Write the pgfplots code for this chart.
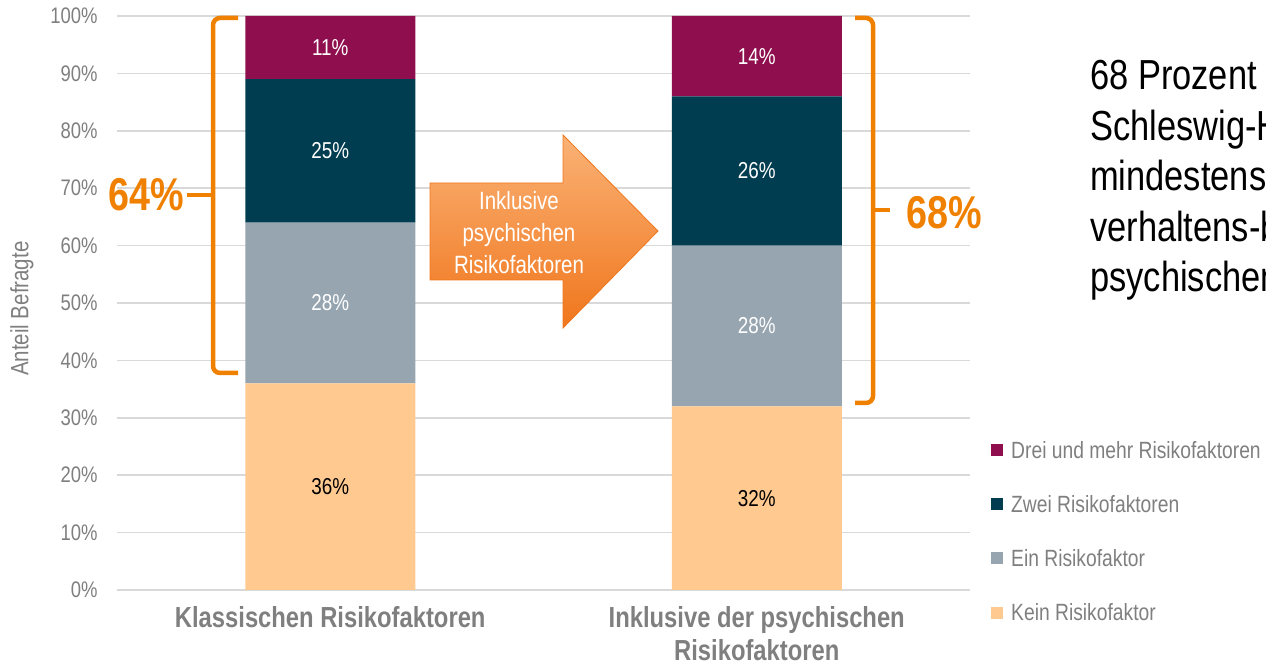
\documentclass[border=0pt]{standalone}
\usepackage{fontspec}
\setmainfont{Liberation Sans}[FakeStretch=0.82]
\usepackage{pgfplots}
\pgfplotsset{compat=1.18}

\definecolor{drei}{RGB}{142,14,78}
\definecolor{zwei}{RGB}{0,61,81}
\definecolor{ein}{RGB}{151,165,176}
\definecolor{kein}{RGB}{255,201,144}
\definecolor{txtgray}{RGB}{127,127,127}
\definecolor{gridgray}{RGB}{217,217,217}
\definecolor{braceorange}{RGB}{240,128,0}
\definecolor{arrowtop}{RGB}{250,178,118}
\definecolor{arrowbot}{RGB}{240,118,28}

\newcommand\fs[2]{\fontsize{#1pt}{#2pt}\selectfont}

\pgfplotsset{
  sq/.style={legend image code/.code={\fill[##1] (0pt,-6pt) rectangle (12pt,6pt);}},
}

\begin{document}
\begin{tikzpicture}
\path[use as bounding box] (0,0) rectangle (1266pt,671pt);

\begin{axis}[
  at={(117pt,81pt)}, anchor=south west,
  scale only axis, width=853pt, height=574pt,
  /pgf/number format/assume math mode=true,
  ybar stacked, bar width=170pt,
  xmin=-0.5, xmax=1.5, ymin=0, ymax=100,
  axis lines*=left,
  y axis line style={draw=none},
  x axis line style={draw=gridgray, line width=1.5pt},
  tick align=outside, major tick length=10pt,
  xtick={0,1},
  xticklabels={Klassischen Risikofaktoren,{Inklusive der psychischen\\Risikofaktoren}},
  xtick style={draw=none},
  extra x ticks={-0.5,0.5,1.5}, extra x tick labels={},
  extra x tick style={tick style={draw=gridgray, line width=1.5pt}},
  xticklabel style={font=\bfseries\fs{29}{33}, text=txtgray, align=center, yshift=-3pt},
  ytick={0,10,...,100},
  yticklabel={\pgfmathprintnumber{\tick}\%},
  ytick style={draw=none},
  yticklabel style={font=\fs{22.5}{26}, text=txtgray, xshift=-6pt},
  ymajorgrids, grid style={draw=gridgray, line width=1.5pt},
  ylabel={Anteil Befragte},
  every axis y label/.style={at={(axis description cs:-0.1114,0.49)}, rotate=90, anchor=center,
    font=\fs{25}{28}, text=txtgray},
  visualization depends on={rawy \as \rawy},
  nodes near coords={\pgfmathprintnumber{\rawy}\%},
  every node near coord/.append style={anchor=center, font=\fs{23}{26}},
  reverse legend,
  legend cell align=left,
  legend style={at={(axis description cs:1.0211,0.2666)}, anchor=north west,
    draw=none, fill=none, font=\fs{23.5}{27}, text=txtgray, row sep=31.5pt,
    /tikz/every odd column/.append style={column sep=6pt}},
]
\addplot[fill=kein, draw=none, sq, every node near coord/.append style={text=black}]
  coordinates {(0,36) (1,32)};
\addplot[fill=ein, draw=none, sq, every node near coord/.append style={text=white}]
  coordinates {(0,28) (1,28)};
\addplot[fill=zwei, draw=none, sq, every node near coord/.append style={text=white}]
  coordinates {(0,25) (1,26)};
\addplot[fill=drei, draw=none, sq, every node near coord/.append style={text=white}]
  coordinates {(0,11) (1,14)};
\legend{Kein Risikofaktor, Ein Risikofaktor, Zwei Risikofaktoren, Drei und mehr Risikofaktoren}
\end{axis}

\begin{scope}[x=1pt, y=-1pt, shift={(0pt,671pt)}]
  % arrow between the bars
  \shade[top color=arrowtop, bottom color=arrowbot, draw=arrowbot, line width=0.8pt]
    (430,183) -- (563,183) -- (563,135) -- (658,231) -- (563,328) -- (563,280) -- (430,280) -- cycle;
  \node[text=white, align=center, font=\fs{25}{32}] at (519,233) {Inklusive\\psychischen\\Risikofaktoren};
  % braces
  \draw[braceorange, line width=4.5pt, rounded corners=7pt] (238,18) -- (213,18) -- (213,373) -- (238,373);
  \draw[braceorange, line width=4.5pt] (187,195) -- (213,195);
  \node[anchor=east, inner sep=0pt, text=braceorange, font=\bfseries\fs{46}{50}] at (184,195) {64\%};
  \draw[braceorange, line width=4.5pt, rounded corners=7pt] (855,18) -- (873,18) -- (873,403) -- (855,403);
  \draw[braceorange, line width=4.5pt] (873,210) -- (890,210);
  \node[anchor=west, inner sep=0pt, text=braceorange, font=\bfseries\fs{46}{50}] at (906,213) {68\%};
  % side text, cut at the right edge as in the original slide
  \clip (0,0) rectangle (1266,671);
  \node[anchor=north west, align=left, inner sep=0pt, font=\fs{42}{50.5}] at (1090,59)
    {68 Prozent der\\Schleswig-Holsteiner haben\\mindestens einen\\verhaltens-bezogenen oder\\psychischen Risikofaktor};
\end{scope}
\end{tikzpicture}
\end{document}
